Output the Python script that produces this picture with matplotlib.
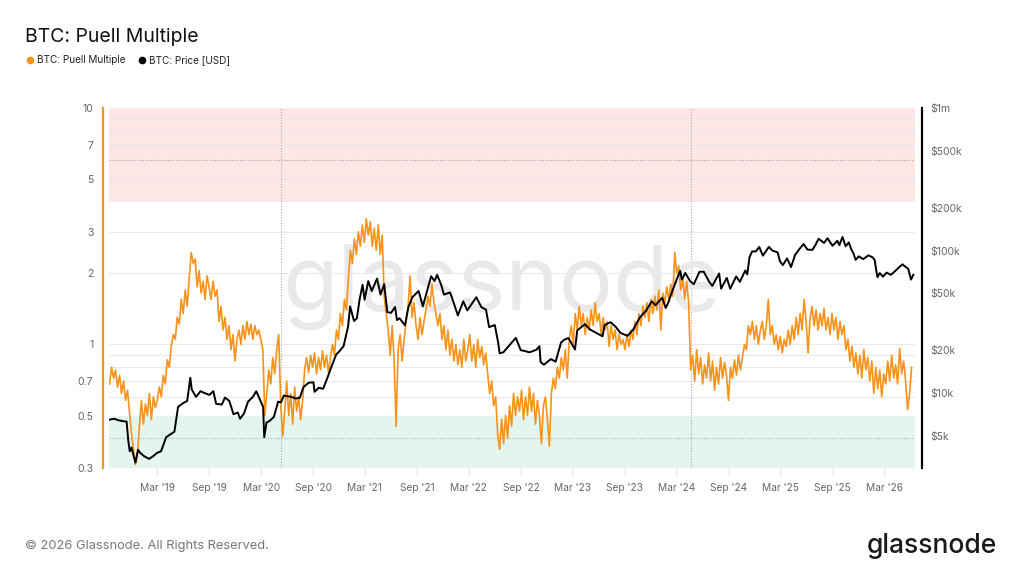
import matplotlib

matplotlib.use("Agg")
import matplotlib.pyplot as plt
import pandas as pd
from matplotlib.lines import Line2D
from matplotlib.ticker import FixedLocator, NullLocator

# weekly Puell Multiple readings, first week 2018-09-15
puell_start = "2018-09-15"
puell_multiple = [
    0.68, 0.80, 0.72, 0.78, 0.66, 0.74, 0.62, 0.70, 0.58, 0.64,
    0.52, 0.42, 0.36, 0.31, 0.34,
    0.45, 0.58, 0.46, 0.56, 0.50, 0.62, 0.48, 0.60, 0.54,
    0.58, 0.66, 0.60, 0.74, 0.68, 0.86, 0.80,
    0.98, 1.10, 1.05, 1.30, 1.22,
    1.55, 1.35, 1.70, 1.45, 1.90,
    2.45, 2.20,
    2.30, 1.75, 2.05, 1.65, 1.85, 1.55, 1.95,
    1.75, 1.55, 1.85, 1.60, 1.70,
    1.25, 1.45, 1.15, 1.30, 1.05, 1.20, 0.95, 1.10, 0.85, 1.05,
    1.15, 1.00, 1.20, 1.05, 1.25, 1.10, 1.22, 1.05, 1.20, 1.10, 1.15,
    1.05, 0.95,
    0.50,
    0.62, 0.78, 0.68, 0.88, 0.75, 0.95, 1.10,
    0.55, 0.41,
    0.52, 0.70, 0.50, 0.62, 0.46, 0.66, 0.52, 0.60, 0.48, 0.58,
    0.78, 0.88, 0.76, 0.90,
    0.80, 0.92, 0.75, 0.88, 0.78, 0.94, 0.80, 0.90, 0.76,
    0.88, 1.00, 0.90, 1.15, 1.05, 1.35, 1.20, 1.55, 1.40,
    1.90, 2.50, 2.20, 2.80, 2.40, 3.00, 2.60, 3.20,
    2.70, 3.40, 2.90, 3.30, 2.60, 3.10, 2.50, 3.20,
    2.40, 2.90, 1.60, 1.35,
    1.15, 0.90, 1.20, 0.85,
    0.45,
    0.95, 1.10, 0.85, 1.05, 1.25,
    1.45, 1.95, 1.30, 1.50,
    1.20, 1.05, 1.30, 1.10, 1.25, 1.40,
    1.60, 1.45, 1.80, 1.50, 1.35,
    1.20, 1.35, 1.05, 1.20, 0.95, 1.15, 0.90, 1.05, 0.85, 1.00, 0.82,
    0.95, 0.80, 1.05, 0.85,
    0.95, 1.10, 0.85, 1.00, 0.80, 1.05, 0.88, 0.98, 0.82, 0.92,
    0.75, 0.62, 0.70, 0.55, 0.60, 0.42,
    0.36, 0.48, 0.38, 0.50, 0.40,
    0.55, 0.45, 0.62, 0.50, 0.60,
    0.52, 0.64, 0.48, 0.60, 0.50, 0.66, 0.52, 0.62, 0.46, 0.58, 0.50, 0.38, 0.55, 0.60, 0.48, 0.37,
    0.62, 0.72, 0.65, 0.80, 0.72, 0.88, 0.78, 0.95, 0.72, 1.05,
    1.20, 1.00, 1.35, 1.15, 1.45, 1.20, 1.35, 1.10, 1.30, 1.15, 1.40, 1.20, 1.50,
    1.25, 1.35, 1.10, 1.30, 1.15, 1.25, 0.98, 1.20, 1.05, 1.15, 0.95, 1.10, 1.00,
    1.05, 0.95, 1.10, 0.98, 1.15, 1.05, 1.25, 1.10,
    1.35, 1.20, 1.45, 1.30, 1.50, 1.25, 1.55, 1.35, 1.60, 1.40, 1.70, 1.15, 1.65, 1.50, 1.75, 1.55, 1.80, 1.60,
    2.45, 2.00, 2.15, 1.70, 1.90, 1.55, 1.85,
    1.50, 0.78, 0.90, 0.70, 0.95, 0.75, 0.88, 0.68, 0.82, 0.72,
    0.92, 0.70, 0.85, 0.64, 0.80, 0.68, 0.88, 0.72, 0.84,
    0.74, 0.58, 0.80, 0.72, 0.86, 0.74, 0.90, 0.78,
    0.88, 1.00, 0.95, 1.20, 1.10,
    1.25, 1.05, 1.20, 1.00, 1.15, 1.25, 1.05, 1.20, 1.55, 1.10, 1.20, 1.00, 1.10,
    0.95, 1.08, 0.92, 1.05, 0.98, 1.15, 1.00,
    1.20, 1.05, 1.30, 1.10, 1.35, 1.15, 1.55, 1.25,
    0.92, 1.30, 1.45, 1.20, 1.40, 1.15, 1.35, 1.20, 1.42, 1.15, 1.30,
    1.10, 1.35, 1.15, 1.30, 1.05, 1.25, 1.10, 1.20,
    0.95, 1.05, 0.85, 0.98, 0.80,
    0.92, 0.75, 0.90, 0.72, 0.95, 0.78, 0.88, 0.70,
    0.85, 0.62, 0.80, 0.65, 0.78,
    0.60, 0.75, 0.68, 0.85, 0.70, 0.90, 0.72, 0.82, 0.68, 0.96, 0.75, 0.85, 0.70,
    0.53, 0.62, 0.80,
]

price_dates = [
    "2018-09-15", "2018-10-01", "2018-10-15", "2018-11-01", "2018-11-14", "2018-11-20",
    "2018-11-25", "2018-12-01", "2018-12-15", "2018-12-24", "2019-01-01", "2019-01-15",
    "2019-02-01", "2019-02-15", "2019-03-01", "2019-03-15", "2019-04-02", "2019-04-15",
    "2019-05-01", "2019-05-14", "2019-06-01", "2019-06-15", "2019-06-26", "2019-07-01",
    "2019-07-16", "2019-08-01", "2019-08-15", "2019-09-01", "2019-09-15", "2019-09-25",
    "2019-10-15", "2019-10-26", "2019-11-10", "2019-11-25", "2019-12-10", "2019-12-18",
    "2020-01-01", "2020-01-15", "2020-02-01", "2020-02-13", "2020-03-01", "2020-03-08",
    "2020-03-12", "2020-03-20", "2020-04-01", "2020-04-15", "2020-04-30", "2020-05-10",
    "2020-05-20", "2020-06-01", "2020-06-15", "2020-07-01", "2020-07-15", "2020-07-28",
    "2020-08-15", "2020-09-01", "2020-09-05", "2020-09-20", "2020-10-05", "2020-10-21",
    "2020-11-05", "2020-11-20", "2020-12-01", "2020-12-16", "2021-01-01", "2021-01-08",
    "2021-01-22", "2021-02-01", "2021-02-10", "2021-02-21", "2021-02-28", "2021-03-13",
    "2021-03-25", "2021-04-13", "2021-04-25", "2021-05-08", "2021-05-19", "2021-06-01",
    "2021-06-15", "2021-06-22", "2021-07-01", "2021-07-20", "2021-08-01", "2021-08-15",
    "2021-09-06", "2021-09-21", "2021-10-01", "2021-10-20", "2021-11-01", "2021-11-10",
    "2021-11-25", "2021-12-04", "2021-12-25", "2022-01-01", "2022-01-22", "2022-02-10",
    "2022-02-24", "2022-03-28", "2022-04-15", "2022-05-01", "2022-05-12", "2022-06-01",
    "2022-06-13", "2022-06-18", "2022-07-01", "2022-07-15", "2022-08-14", "2022-08-31",
    "2022-09-15", "2022-10-01", "2022-10-25", "2022-11-05", "2022-11-09", "2022-11-21",
    "2022-12-15", "2023-01-01", "2023-01-20", "2023-02-01", "2023-02-15", "2023-03-10",
    "2023-03-18", "2023-04-14", "2023-05-01", "2023-05-15", "2023-06-15", "2023-06-22",
    "2023-07-13", "2023-07-31", "2023-08-17", "2023-09-11", "2023-10-01", "2023-10-24",
    "2023-11-15", "2023-12-05", "2023-12-18", "2024-01-11", "2024-01-23", "2024-02-01",
    "2024-02-15", "2024-03-01", "2024-03-14", "2024-03-20", "2024-04-01", "2024-04-17",
    "2024-05-01", "2024-05-21", "2024-06-05", "2024-06-24", "2024-07-05", "2024-07-29",
    "2024-08-05", "2024-08-25", "2024-09-06", "2024-09-27", "2024-10-10", "2024-10-29",
    "2024-11-05", "2024-11-13", "2024-11-22", "2024-12-05", "2024-12-17", "2024-12-30",
    "2025-01-20", "2025-02-01", "2025-02-20", "2025-02-28", "2025-03-10", "2025-03-25",
    "2025-04-08", "2025-04-22", "2025-05-10", "2025-05-22", "2025-06-05", "2025-06-22",
    "2025-07-03", "2025-07-14", "2025-08-02", "2025-08-14", "2025-09-01", "2025-09-18",
    "2025-09-25", "2025-10-06", "2025-10-17", "2025-10-28", "2025-11-06", "2025-11-14",
    "2025-11-21", "2025-12-02", "2025-12-18", "2026-01-05", "2026-01-20", "2026-01-27",
    "2026-02-02", "2026-02-06", "2026-02-14", "2026-02-25", "2026-03-10", "2026-03-25",
    "2026-04-10", "2026-04-22", "2026-05-05", "2026-05-15", "2026-05-25", "2026-06-04",
    "2026-06-12",
]
price_usd = [
    6500, 6600, 6450, 6350, 6300, 4600,
    3900, 4150, 3250, 4000, 3800, 3600,
    3450, 3600, 3800, 3900, 4900, 5100,
    5350, 8000, 8500, 8800, 12800, 10600,
    9400, 10300, 10000, 9700, 10300, 8400,
    8300, 9300, 8800, 7100, 7300, 6600,
    7200, 8700, 9400, 10300, 8600, 8000,
    4900, 6200, 6400, 6800, 8700, 8600,
    9600, 9500, 9400, 9150, 9250, 11000,
    11800, 11900, 10200, 10900, 10700, 12900,
    15600, 18600, 19600, 21300, 29300, 40500,
    32000, 33500, 44800, 57500, 45200, 61000,
    52000, 63500, 49000, 58000, 37000, 36500,
    40200, 32500, 33500, 29800, 40000, 47000,
    52000, 40600, 48000, 66000, 61000, 67500,
    57000, 49000, 50800, 47000, 35000, 44000,
    38000, 47000, 40000, 38500, 29000, 30000,
    22500, 19000, 19300, 20800, 24400, 20000,
    19700, 19300, 20100, 21300, 16500, 15800,
    17300, 16600, 22600, 23700, 24300, 20200,
    27500, 30400, 28000, 27000, 25000, 30000,
    31400, 29200, 26400, 25200, 27900, 33900,
    37800, 44000, 41300, 46600, 39500, 43000,
    51800, 62000, 72000, 62500, 69600, 61300,
    58000, 71000, 71000, 60300, 56500, 69000,
    54000, 64200, 53900, 65800, 60300, 72400,
    68000, 90000, 98500, 98500, 106000, 92000,
    106000, 100000, 97000, 84000, 79000, 88000,
    76500, 93000, 104000, 111000, 101500, 101000,
    109500, 121000, 113000, 122000, 108000, 117000,
    109000, 124500, 107000, 114000, 102000, 95000,
    86000, 91000, 87000, 92500, 89500, 86000,
    72000, 65000, 69500, 65500, 70000, 67500,
    72000, 76000, 80000, 77000, 74500, 62500,
    67500,
]

halving_dates = ["2020-05-11", "2024-04-20"]

x_tick_dates = [
    "2019-03-01", "2019-09-01", "2020-03-01", "2020-09-01", "2021-03-01",
    "2021-09-01", "2022-03-01", "2022-09-01", "2023-03-01", "2023-09-01",
    "2024-03-01", "2024-09-01", "2025-03-01", "2025-09-01", "2026-03-01",
]
x_tick_labels = [
    "Mar '19", "Sep '19", "Mar '20", "Sep '20", "Mar '21", "Sep '21", "Mar '22", "Sep '22",
    "Mar '23", "Sep '23", "Mar '24", "Sep '24", "Mar '25", "Sep '25", "Mar '26",
]
puell_ticks = [0.3, 0.5, 0.7, 1, 2, 3, 5, 7, 10]
puell_tick_labels = ["0.3", "0.5", "0.7", "1", "2", "3", "5", "7", "10"]
price_ticks = [5e3, 1e4, 2e4, 5e4, 1e5, 2e5, 5e5, 1e6]
price_tick_labels = ["$5k", "$10k", "$20k", "$50k", "$100k", "$200k", "$500k", "$1m"]
grid_levels = [0.6, 0.7, 0.8, 0.9, 1, 2, 3, 5, 7, 8, 9]

ORANGE = "#f7931a"
TICK_GREY = "#666666"

plt.rcParams["font.family"] = ["Inter", "DejaVu Sans"]

fig = plt.figure(figsize=(10.24, 5.76), dpi=100)
ax = fig.add_axes([109 / 1024, 108 / 576, 806 / 1024, 360 / 576])

puell_dates = pd.date_range(puell_start, periods=len(puell_multiple), freq="7D")

ax.set_yscale("log")
ax.set_ylim(0.3, 10)
ax.set_xlim(pd.Timestamp("2018-09-13"), pd.Timestamp("2026-06-18"))

# zones and grid
ax.axhspan(4, 10, color="#fde6e6", lw=0, zorder=0)
ax.axhspan(0.3, 0.5, color="#e4f5ee", lw=0, zorder=0)
for level in grid_levels:
    ax.axhline(level, color="#e6e6e6", lw=0.8, alpha=0.85, zorder=0.5)
ax.axhline(6, color="#b79a9a", lw=0.8, ls=(0, (1, 1.5)), zorder=0.6)
ax.axhline(0.4, color="#95b5a8", lw=0.8, ls=(0, (1, 1.5)), zorder=0.6)
for item in halving_dates:
    ax.axvline(pd.Timestamp(item), color="#a8a8a8", lw=0.8, ls=(0, (1, 1.5)), zorder=0.6)

ax.text(0.488, 0.44, "glassnode", transform=ax.transAxes, fontsize=65, color="#e9e9e9",
        ha="center", va="baseline", zorder=0.7)

ax.plot(puell_dates, puell_multiple, color=ORANGE, lw=1.2, zorder=2)

ax.yaxis.set_major_locator(FixedLocator(puell_ticks))
ax.yaxis.set_minor_locator(NullLocator())
ax.set_yticklabels(puell_tick_labels)
ax.set_xticks([pd.Timestamp(d) for d in x_tick_dates])
ax.set_xticklabels(x_tick_labels)
ax.tick_params(axis="y", length=0, pad=7, labelsize=7.5, labelcolor=TICK_GREY)
ax.tick_params(axis="x", length=5, width=0.8, color="#e0e0e0", pad=6, labelsize=7.3, labelcolor=TICK_GREY)
for side in ("top", "right", "bottom"):
    ax.spines[side].set_visible(False)
ax.spines["left"].set_position(("outward", 4.3))
ax.spines["left"].set_color(ORANGE)
ax.spines["left"].set_linewidth(1.6)

ax2 = ax.twinx()
ax2.set_yscale("log")
ax2.set_ylim(2978, 1e6)
ax2.plot(pd.to_datetime(price_dates), price_usd, color="#000000", lw=1.4, zorder=3)
ax2.yaxis.set_major_locator(FixedLocator(price_ticks))
ax2.yaxis.set_minor_locator(NullLocator())
ax2.set_yticklabels(price_tick_labels)
ax2.tick_params(axis="y", length=0, pad=5.8, labelsize=7.5, labelcolor=TICK_GREY)
for side in ("top", "left", "bottom"):
    ax2.spines[side].set_visible(False)
ax2.spines["right"].set_position(("outward", 5))
ax2.spines["right"].set_color("#000000")
ax2.spines["right"].set_linewidth(1.6)

# header
fig.text(25 / 1024, 1 - 42 / 576, "BTC: Puell Multiple", fontsize=14, color="#111111", va="baseline")
legend_items = [(30, ORANGE, "BTC: Puell Multiple"), (142, "#000000", "BTC: Price [USD]")]
for x_px, color, label in legend_items:
    fig.add_artist(Line2D([x_px / 1024], [1 - 60 / 576], marker="o", markersize=4.5, color=color,
                          lw=0, transform=fig.transFigure))
    fig.text((x_px + 7) / 1024, 1 - 60 / 576, label, fontsize=7.2, color="#222222", va="center")

# footer
fig.text(25 / 1024, 1 - 546 / 576, "\u00a9 2026 Glassnode. All Rights Reserved.", fontsize=9.3,
         color="#777777", va="center")
fig.text(997 / 1024, 1 - 546 / 576, "glassnode", fontsize=19, color="#1a1a1a", ha="right",
         va="center", fontweight="medium")

fig.savefig("out.png", dpi=100)
